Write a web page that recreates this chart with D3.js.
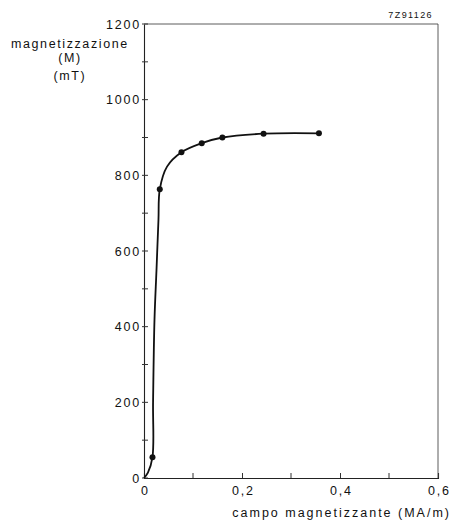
<!DOCTYPE html>
<html>
<head>
<meta charset="utf-8">
<script src="https://cdn.jsdelivr.net/npm/d3@7"></script>
<style>
  body { margin: 0; background: #fff; }
  text { font-family: "Liberation Sans", Arial, sans-serif; fill: #111; }
</style>
</head>
<body>
<svg id="chart" width="452" height="521"></svg>
<script>
// misure (campo H in MA/m, magnetizzazione M in mT)
const pointsH = [0.0173, 0.0322, 0.0764, 0.1178, 0.160, 0.244, 0.357];
const pointsM = [55, 763, 861, 885, 900, 910, 911];

// tracciato della curva
const curveH = [0, 0.008, 0.0173, 0.0185, 0.0214, 0.0255, 0.0295, 0.0322, 0.047, 0.0764, 0.1178, 0.160, 0.244, 0.357];
const curveM = [0, 14, 55, 200, 418, 550, 682, 763, 823, 861, 885, 900, 910, 911];

const xTicks = [0, 0.2, 0.4, 0.6];
const xMinor = [0.1, 0.3, 0.5];
const yTicks = [0, 200, 400, 600, 800, 1000, 1200];
const yMinor = [100, 300, 500, 700, 900, 1100];
const yTitle = ['magnetizzazione', '(M)', '(mT)'];
const xTitle = 'campo magnetizzante (MA/m)';
const code = '7Z91126';

const margin = { top: 24, right: 14, bottom: 43, left: 144 };
const width = 452, height = 521;
const fs = 12.5, ls = 1.8;

const x = d3.scaleLinear().domain([0, 0.6]).range([margin.left, width - margin.right]);
const y = d3.scaleLinear().domain([0, 1200]).range([height - margin.bottom, margin.top]);

const svg = d3.select('#chart');

// cornice superiore e destra
svg.append('path')
    .attr('d', `M${x(0)},${y(1200)}H${x(0.6)}V${y(0)}`)
    .attr('fill', 'none')
    .attr('stroke', '#333')
    .attr('stroke-width', 0.8);

// assi
const xAxis = d3.axisBottom(x).tickValues(xTicks).tickSize(-5)
    .tickFormat(d => d === 0 ? '0' : d3.format('.1f')(d).replace('.', ','));
const gx = svg.append('g')
    .attr('transform', `translate(0,${y(0)})`)
    .call(xAxis);
gx.select('.domain').attr('stroke', '#222').attr('stroke-width', 1.1);
gx.selectAll('text')
    .attr('font-size', fs)
    .attr('letter-spacing', ls)
    .attr('dy', null)
    .attr('y', 17)
    .attr('dx', ls / 2);
gx.selectAll('.tick line').attr('stroke', '#333');

svg.append('g').selectAll('line')
    .data(xMinor)
    .join('line')
    .attr('x1', d => x(d)).attr('x2', d => x(d))
    .attr('y1', y(0)).attr('y2', y(0) - 5)
    .attr('stroke', '#333');

const yAxis = d3.axisLeft(y).tickValues(yTicks).tickSize(0).tickPadding(3)
    .tickFormat(d3.format('d'));
const gy = svg.append('g')
    .attr('transform', `translate(${x(0)},0)`)
    .call(yAxis);
gy.select('.domain').attr('stroke', '#222').attr('stroke-width', 1.1);
gy.selectAll('text').attr('font-size', fs).attr('letter-spacing', ls);

svg.append('g').selectAll('line')
    .data(yTicks.concat(yMinor))
    .join('line')
    .attr('x1', x(0) - 2).attr('x2', x(0) + 4)
    .attr('y1', d => y(d)).attr('y2', d => y(d))
    .attr('stroke', '#333');

// curva
const curveData = curveH.map((h, i) => [h, curveM[i]]);
const line = d3.line()
    .x(d => x(d[0]))
    .y(d => y(d[1]))
    .curve(d3.curveCatmullRom.alpha(0.5));

svg.append('path')
    .datum(curveData)
    .attr('d', line)
    .attr('fill', 'none')
    .attr('stroke', '#111')
    .attr('stroke-width', 1.8);

svg.append('g').selectAll('circle')
    .data(pointsH.map((h, i) => [h, pointsM[i]]))
    .join('circle')
    .attr('cx', d => x(d[0]))
    .attr('cy', d => y(d[1]))
    .attr('r', 3)
    .attr('fill', '#111');

// titoli
svg.append('g').selectAll('text')
    .data(yTitle)
    .join('text')
    .attr('x', 69 + ls / 2)
    .attr('y', (d, i) => [48, 62, 80][i])
    .attr('text-anchor', 'middle')
    .attr('font-size', fs)
    .attr('letter-spacing', 1.6)
    .text(d => d);

svg.append('text')
    .attr('x', 451)
    .attr('y', 517)
    .attr('text-anchor', 'end')
    .attr('font-size', fs)
    .attr('letter-spacing', 2.0)
    .text(xTitle);

svg.append('text')
    .attr('x', 433)
    .attr('y', 18)
    .attr('text-anchor', 'end')
    .attr('font-size', 9)
    .attr('letter-spacing', 1.4)
    .text(code);
</script>
</body>
</html>
